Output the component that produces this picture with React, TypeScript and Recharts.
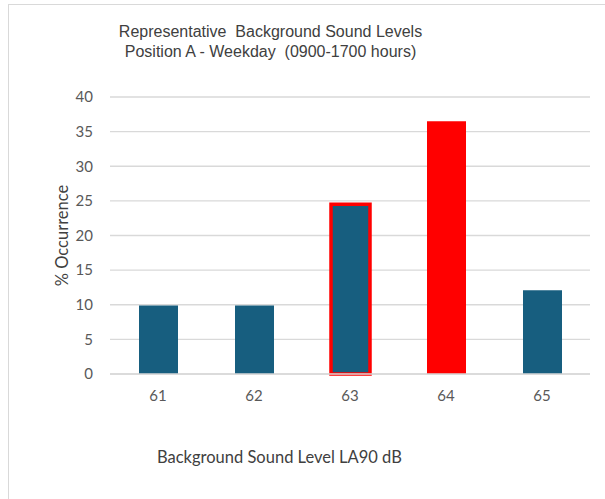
import { BarChart, Bar, XAxis, YAxis, CartesianGrid, Cell, Label } from "recharts";

const levels = ["61", "62", "63", "64", "65"];
const occurrence = [9.9, 9.9, 24.5, 36.5, 12.1];
const yTicks = [0, 5, 10, 15, 20, 25, 30, 35, 40];

const BLUE = "#175e7f";
const RED = "#ff0000";
const barStyle: Record<string, { fill: string; stroke?: string; strokeWidth?: number }> = {
  "63": { fill: BLUE, stroke: RED, strokeWidth: 3.5 },
  "64": { fill: RED },
};

const data = levels.map((level, i) => ({ level, value: occurrence[i] }));

export default function App() {
  return (
    <div style={{ position: "absolute", left: 0, top: 0, width: 605, height: 499, background: "#fff", overflow: "hidden" }}>
      <div style={{ position: "absolute", left: 8, top: 4, width: 620, height: 520, border: "1px solid #d9d9d9" }} />
      <div
        style={{
          position: "absolute", left: 0, top: 22, width: 541, textAlign: "center",
          fontFamily: "'Liberation Sans', Arial, sans-serif", fontSize: 16, lineHeight: "20px", color: "#404040",
        }}
      >
        Representative&nbsp; Background Sound Levels
        <br />
        Position A - Weekday&nbsp; (0900-1700 hours)
      </div>
      <div
        style={{
          position: "absolute", left: 157, top: 447, whiteSpace: "nowrap",
          fontFamily: "Lato, 'Open Sans', sans-serif", fontSize: 16.5, lineHeight: "20px", color: "#404040",
        }}
      >
        Background Sound Level LA90 dB
      </div>
      <div style={{ position: "absolute", left: 0, top: 0 }}>
        <BarChart width={605} height={499} data={data} margin={{ top: 97, right: 15, bottom: 95, left: 0 }}>
          <CartesianGrid vertical={false} stroke="#d9d9d9" strokeWidth={1.3} />
          <XAxis
            dataKey="level"
            axisLine={{ stroke: "#d9d9d9", strokeWidth: 1.3 }}
            tickLine={false}
            tickSize={0}
            tickMargin={16}
            tick={{ fill: "#595959", fontSize: 15, fontFamily: "Lato, sans-serif" }}
          />
          <YAxis
            width={110}
            domain={[0, 40]}
            ticks={yTicks}
            axisLine={false}
            tickLine={false}
            tickSize={0}
            tickMargin={17}
            tick={{ fill: "#595959", fontSize: 15, fontFamily: "Lato, sans-serif" }}
          >
            <Label
              value="% Occurrence"
              angle={-90}
              position="insideLeft"
              offset={62}
              style={{ fill: "#404040", fontSize: 16.5, fontFamily: "Lato, sans-serif", textAnchor: "middle" }}
            />
          </YAxis>
          <Bar dataKey="value" barSize={39} isAnimationActive={false}>
            {data.map((d) => {
              const s = barStyle[d.level] || { fill: BLUE };
              return <Cell key={d.level} fill={s.fill} stroke={s.stroke} strokeWidth={s.strokeWidth || 0} />;
            })}
          </Bar>
        </BarChart>
      </div>
    </div>
  );
}
